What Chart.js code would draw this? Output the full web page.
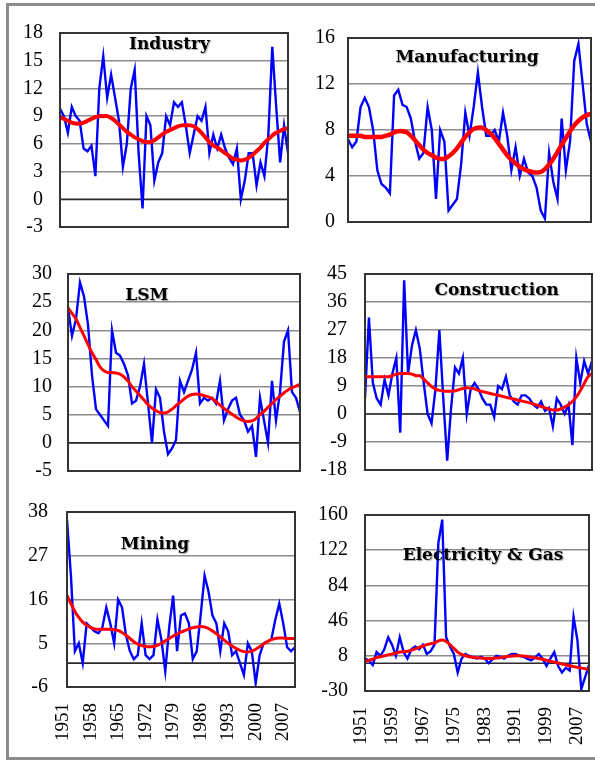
<!DOCTYPE html>
<html><head><meta charset="utf-8">
<script src="https://cdn.jsdelivr.net/npm/chart.js@4.4.1/dist/chart.umd.min.js"></script>
<style>
html,body{margin:0;padding:0;background:#fff;}
body{width:595px;height:763px;position:relative;overflow:hidden;}
#frame{position:absolute;left:6px;top:3px;width:600px;height:757px;border:3px solid #8c8c8c;box-sizing:border-box;}
canvas{position:absolute;}
</style></head><body>
<div id="frame"></div>
<canvas id="c1" width="280" height="224" style="left:12px;top:18px"></canvas>
<canvas id="c2" width="295" height="214" style="left:300px;top:23px"></canvas>
<canvas id="c3" width="291" height="227" style="left:12px;top:259px"></canvas>
<canvas id="c4" width="290" height="226" style="left:305px;top:259px"></canvas>
<canvas id="c5" width="286" height="260" style="left:12px;top:497px"></canvas>
<canvas id="c6" width="288" height="257" style="left:305px;top:500px"></canvas>
<script>
const years = [1951,1952,1953,1954,1955,1956,1957,1958,1959,1960,
1961,1962,1963,1964,1965,1966,1967,1968,1969,1970,
1971,1972,1973,1974,1975,1976,1977,1978,1979,1980,
1981,1982,1983,1984,1985,1986,1987,1988,1989,1990,
1991,1992,1993,1994,1995,1996,1997,1998,1999,2000,
2001,2002,2003,2004,2005,2006,2007,2008,2009];

const leftXTicks = [1951,1958,1965,1972,1979,1986,1993,2000,2007];
const rightXTicks = [1951,1959,1967,1975,1983,1991,1999,2007];

const industryTicks = [-3,0,3,6,9,12,15,18];
const manufacturingTicks = [0,4,8,12,16];
const lsmTicks = [-5,0,5,10,15,20,25,30];
const constructionTicks = [-18,-9,0,9,18,27,36,45];
const miningTicks = [-6,5,16,27,38];
const electricityTicks = [-30,8,46,84,122,160];

const industryActual = [9.8,9.0,7.2,10.0,9.0,8.5,5.5,5.2,5.8,2.5,
12.0,15.5,11.0,13.5,11.0,8.5,3.5,6.0,12.0,14.0,
5.0,-1.0,9.0,8.0,2.0,4.0,5.0,9.0,8.0,10.5,
10.0,10.5,8.0,5.0,7.0,9.0,8.5,10.0,5.0,7.0,
5.5,7.0,5.5,4.5,3.8,5.5,0.0,2.0,5.0,5.0,
1.5,4.0,2.5,7.0,16.5,10.0,4.0,8.0,5.0];
const industryTrend = [8.9,8.7,8.5,8.3,8.2,8.2,8.3,8.5,8.7,8.9,
9.0,9.0,9.0,8.8,8.5,8.1,7.7,7.3,7.0,6.7,
6.5,6.3,6.2,6.2,6.4,6.7,7.0,7.3,7.5,7.7,
7.9,8.0,8.0,8.0,7.9,7.6,7.2,6.7,6.2,5.8,
5.6,5.3,5.0,4.7,4.4,4.3,4.2,4.3,4.5,4.8,
5.2,5.6,6.1,6.5,6.9,7.2,7.4,7.6,7.7];

const manufacturingActual = [7.2,6.5,7.0,10.0,10.8,10.0,8.0,4.5,3.3,3.0,
2.5,11.0,11.5,10.2,10.0,9.0,7.0,5.5,6.0,10.0,
8.0,2.0,8.0,7.0,1.0,1.5,2.0,5.0,9.5,7.5,
10.0,13.0,10.0,7.5,7.5,8.0,7.0,9.5,7.5,4.5,
6.5,4.0,5.5,4.3,4.0,3.0,1.0,0.3,6.0,3.5,
2.0,9.0,4.5,7.0,14.0,15.5,12.0,8.5,7.0];
const manufacturingTrend = [7.5,7.5,7.5,7.5,7.4,7.4,7.4,7.4,7.4,7.5,
7.6,7.8,7.9,7.9,7.8,7.5,7.1,6.7,6.3,6.0,
5.8,5.6,5.5,5.5,5.7,6.0,6.4,6.9,7.4,7.8,
8.1,8.2,8.2,8.0,7.7,7.3,6.8,6.3,5.8,5.4,
5.1,4.8,4.6,4.45,4.35,4.3,4.35,4.6,5.0,5.5,
6.1,6.7,7.3,7.9,8.4,8.8,9.1,9.3,9.4];

const lsmActual = [24,19,22,28.5,26,21,12,6,5,4,
3,20,16,15.5,14,12,7,7.5,10,14,
7,0,9.5,8,2,-2,-1,0.5,11,9,
11,13,16,7,8,7.5,8,7,11,4,
6,7.5,8,5,4,2,3,-2.5,8,4,
0,11,4,9,18,20,9,8,5.5];
const lsmTrend = [24,23,22,20.5,19,17.5,16,14.8,13.5,12.8,
12.5,12.5,12.4,12.2,11.7,11.0,10.0,9.2,8.4,7.6,
6.8,6.2,5.7,5.4,5.3,5.5,6.0,6.6,7.2,7.8,
8.3,8.6,8.7,8.6,8.4,8.2,7.9,7.3,6.7,6.1,
5.6,5.1,4.6,4.2,3.9,3.8,3.9,4.3,5.0,5.6,
6.3,7.0,7.7,8.3,8.9,9.4,9.8,10.1,10.4];

const constructionActual = [5,31,10,5,3,11,6,13,18,-6,
43,13,22,27,21,10,0,-3,8,27,
5,-15,2,15,13,18,0,8,10,8,
5,3,3,-1,9,8,12,6,4,3,
6,6,5,3,2,4,1,2,-4,5,
3,0,3,-10,18,10,17,13,17];
const constructionTrend = [12,12,12,12,12,12,12,12.3,12.8,13,
13,13,12.8,12.3,12.3,11.2,10.0,8.8,8.0,7.6,
7.4,7.3,7.3,7.5,7.8,8.2,8.4,8.3,8.1,7.5,
7.2,6.9,6.6,6.3,6.0,5.7,5.4,5.1,4.8,4.5,
4.2,3.9,3.6,3.2,2.8,2.4,2.0,1.6,1.3,1.3,
1.6,2.2,3.0,4.0,5.5,7.5,9.8,12.0,13.0];

const miningActual = [36,22,3,5,0,10,9,8,7.5,9,
14,10,5,16,14,7,3,1,2,10,
2,1,2,11,6,-2,9,17,3,12,
12.5,10,1,3,12,22,18,12,10,3,
10,8,2,3,0,-3,5,3,-5,2,
5,5.5,6,11,15,10,4,3,4];
const miningTrend = [17,15,13,11.5,10.3,9.5,9,8.6,8.5,8.5,
8.5,8.5,8.4,8.2,7.7,7.0,6.2,5.4,4.8,4.4,
4.2,4.1,4.2,4.5,5.0,5.6,6.2,6.8,7.3,7.8,
8.2,8.6,8.9,9.1,9.2,9.1,8.7,8.1,7.4,6.6,
5.8,5.0,4.3,3.7,3.2,2.9,2.8,3.0,3.5,4.1,
4.8,5.4,5.9,6.2,6.3,6.3,6.2,6.2,6.2];

const electricityActual = [5,3,-2,12,8,15,28,20,8,28,
12,5,15,18,15,20,10,13,20,130,
155,28,18,10,-10,5,10,8,6,5,
7,5,0,4,8,7,5,8,10,10,
8,7,5,3,6,10,5,-3,5,12,
-3,-10,-5,-8,50,25,-28,-15,-2];
const electricityTrend = [2,3,4.5,6,7,8,9,10,11,12,
12.5,13,14,15.5,17,18.5,20,21,22,24,
25,23.5,20,16,12,9.5,8,7,6.5,6,
5.5,5.2,5,5.2,5.5,6,6.8,7.3,7.7,8,
8,7.8,7.2,6.5,5.8,5,4.2,3.2,2.2,1.2,
0.2,-0.8,-1.8,-2.8,-3.6,-4.4,-5.2,-6,-6.8];

const deco = {
  id: 'panelDeco',
  beforeDatasetsDraw(chart) {
    const {ctx, chartArea: a, scales: {y}} = chart;
    const z = y.getPixelForValue(0);
    ctx.save();
    ctx.strokeStyle = '#2b2b2b';
    ctx.lineWidth = 1.6;
    ctx.beginPath(); ctx.moveTo(a.left, z); ctx.lineTo(a.right, z); ctx.stroke();
    ctx.restore();
  },
  afterDatasetsDraw(chart, args, o) {
    const {ctx, chartArea: a} = chart;
    ctx.save();
    ctx.strokeStyle = '#333';
    ctx.lineWidth = 2;
    ctx.strokeRect(a.left, a.top, a.right - a.left, a.bottom - a.top);
    ctx.font = 'bold 17px "DejaVu Serif"';
    ctx.textAlign = 'center';
    ctx.textBaseline = 'middle';
    ctx.shadowColor = 'rgba(0,0,0,0.35)';
    ctx.shadowOffsetX = 1; ctx.shadowOffsetY = 1; ctx.shadowBlur = 1;
    ctx.fillStyle = '#000';
    ctx.fillText(o.text, a.left + o.fx * (a.right - a.left), a.top + o.dy);
    ctx.restore();
  }
};

function makePanel(id, cfg) {
  const xAxis = cfg.xTicks ? {
    offset: false,
    grid: { display: false, drawTicks: true, tickLength: 16, tickColor: 'rgba(0,0,0,0)' },
    border: { display: false },
    afterBuildTicks: s => { s.ticks = s.ticks.filter(t => cfg.xTicks.includes(years[t.value])); },
    afterFit: s => { s.height = cfg.xH; s.paddingLeft = 0; s.paddingRight = 0; },
    ticks: {
      autoSkip: false, minRotation: 90, maxRotation: 90, padding: 0, labelOffset: -4,
      color: '#000', font: { family: 'Liberation Serif', size: 19 }
    }
  } : { display: false, offset: false };
  new Chart(document.getElementById(id), {
    type: 'line',
    data: {
      labels: years,
      datasets: [
        { data: cfg.trend, borderColor: '#ff0000', borderWidth: cfg.redW, pointRadius: 0, tension: 0.3, fill: false },
        { data: cfg.actual, borderColor: '#0000ff', borderWidth: 2.4, pointRadius: 0, tension: 0, fill: false }
      ]
    },
    options: {
      responsive: false, animation: false, devicePixelRatio: 1,
      layout: { padding: { top: 15, right: cfg.padR, bottom: cfg.xTicks ? 0 : 15, left: 0 } },
      plugins: { legend: { display: false }, tooltip: { enabled: false }, panelDeco: { text: cfg.title, fx: cfg.fx, dy: cfg.dy } },
      scales: {
        x: xAxis,
        y: {
          min: cfg.yTicks[0], max: cfg.yTicks[cfg.yTicks.length - 1],
          afterBuildTicks: s => { s.ticks = cfg.yTicks.map(v => ({ value: v })); },
          afterFit: s => { s.width = cfg.yW; },
          grid: { color: '#8c8c8c', lineWidth: 1.5, drawTicks: true, tickLength: cfg.yPad, tickColor: 'rgba(0,0,0,0)' },
          border: { display: false },
          ticks: { padding: 0, color: '#000', font: { family: 'Liberation Serif', size: 20 } }
        }
      }
    },
    plugins: [deco]
  });
}

makePanel('c1', { title: 'Industry', actual: industryActual, trend: industryTrend, yTicks: industryTicks, yW: 48, yPad: 17, padR: 4, redW: 4, fx: 0.48, dy: 12 });
makePanel('c2', { title: 'Manufacturing', actual: manufacturingActual, trend: manufacturingTrend, yTicks: manufacturingTicks, yW: 48, yPad: 13, padR: 4, redW: 4.5, fx: 0.49, dy: 20 });
makePanel('c3', { title: 'LSM', actual: lsmActual, trend: lsmTrend, yTicks: lsmTicks, yW: 56, yPad: 16, padR: 3, redW: 3, fx: 0.34, dy: 22 });
makePanel('c4', { title: 'Construction', actual: constructionActual, trend: constructionTrend, yTicks: constructionTicks, yW: 60, yPad: 18, padR: 3, redW: 3, fx: 0.58, dy: 17 });
makePanel('c5', { title: 'Mining', actual: miningActual, trend: miningTrend, yTicks: miningTicks, yW: 55, yPad: 19, padR: 3, redW: 3, fx: 0.386, dy: 33, xTicks: leftXTicks, xH: 70 });
makePanel('c6', { title: 'Electricity & Gas', actual: electricityActual, trend: electricityTrend, yTicks: electricityTicks, yW: 60, yPad: 17, padR: 4, redW: 3, fx: 0.527, dy: 41, xTicks: rightXTicks, xH: 66 });
</script>
</body></html>
